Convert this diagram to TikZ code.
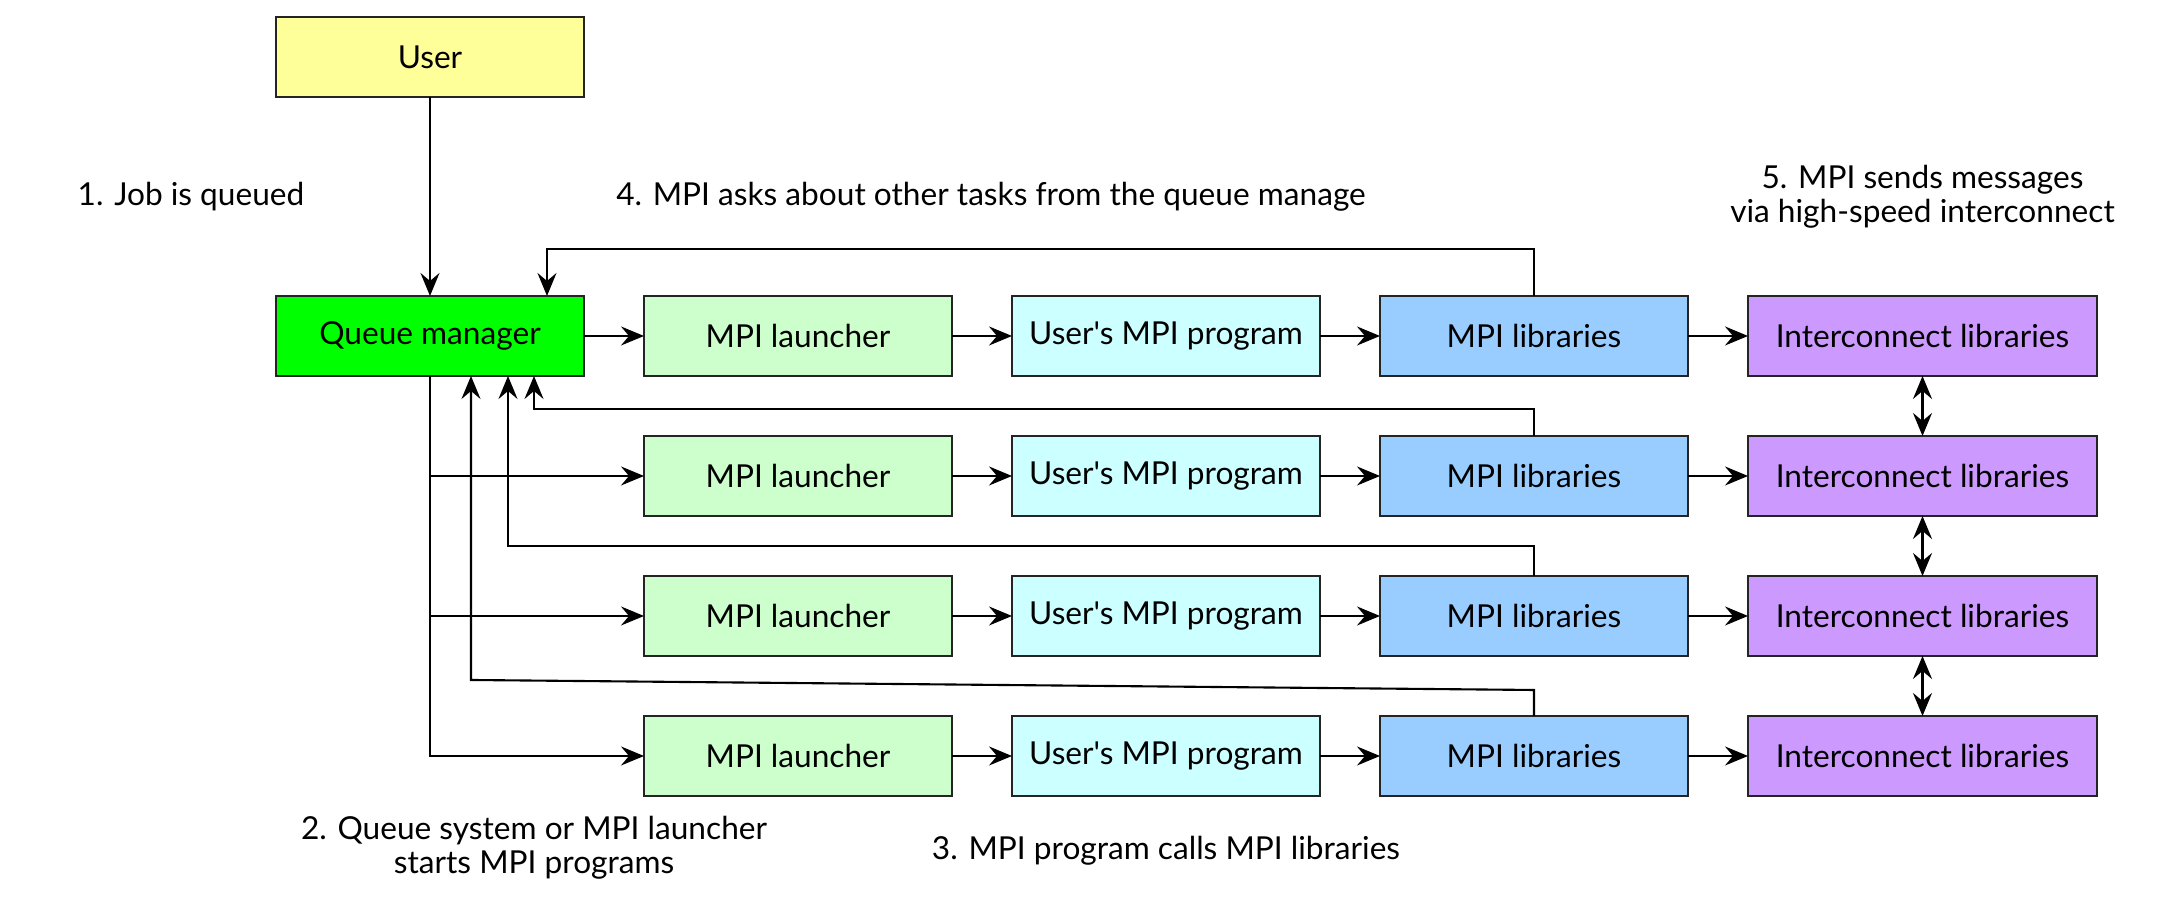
\documentclass[tikz,border=0pt]{standalone}
\usepackage{fontspec}
\setmainfont{Lato}[Ligatures=TeXOff]
\usepackage{xcolor}
\usepackage{tikz}
\usetikzlibrary{positioning,arrows.meta,calc}

\definecolor{userfill}{HTML}{FFFF99}
\definecolor{qmfill}{HTML}{00FF00}
\definecolor{lnchfill}{HTML}{CCFFCC}
\definecolor{progfill}{HTML}{CCFFFF}
\definecolor{libfill}{HTML}{99CCFF}
\definecolor{icfill}{HTML}{CC99FF}
\definecolor{boxline}{HTML}{242424}

\begin{document}
\begin{tikzpicture}[
    font=\fontsize{9pt}{9.7pt}\selectfont,
    box/.style={draw=boxline, line width=0.8pt, minimum width=3.08cm, minimum height=0.8cm, outer sep=0pt, inner sep=0pt},
    icbox/.style={box, fill=icfill, minimum width=3.49cm},
    arr/.style={-{Stealth[length=2.3mm, width=1.9mm, inset=0.8mm]}, line width=0.6pt},
    dbl/.style={{Stealth[length=2.3mm, width=1.9mm, inset=0.8mm]}-{Stealth[length=2.3mm, width=1.9mm, inset=0.8mm]}, line width=0.6pt},
    lbl/.style={align=center, inner sep=0pt}
  ]
\useasboundingbox (0,0) rectangle (21.58,9.04);

% Nodes
\node[box, fill=qmfill] (qm) at (4.30,5.68) {Queue manager};
\node[box, fill=userfill, above=1.99cm of qm] (user) {User};

\node[box, fill=lnchfill, right=0.6cm of qm] (lnch1) {MPI launcher};
\node[box, fill=progfill, right=0.6cm of lnch1] (prog1) {User's MPI program};
\node[box, fill=libfill, right=0.6cm of prog1] (lib1) {MPI libraries};
\node[icbox, right=0.6cm of lib1] (ic1) {Interconnect libraries};

\node[box, fill=lnchfill, below=0.6cm of lnch1] (lnch2) {MPI launcher};
\node[box, fill=progfill, right=0.6cm of lnch2] (prog2) {User's MPI program};
\node[box, fill=libfill, right=0.6cm of prog2] (lib2) {MPI libraries};
\node[icbox, right=0.6cm of lib2] (ic2) {Interconnect libraries};

\node[box, fill=lnchfill, below=0.6cm of lnch2] (lnch3) {MPI launcher};
\node[box, fill=progfill, right=0.6cm of lnch3] (prog3) {User's MPI program};
\node[box, fill=libfill, right=0.6cm of prog3] (lib3) {MPI libraries};
\node[icbox, right=0.6cm of lib3] (ic3) {Interconnect libraries};

\node[box, fill=lnchfill, below=0.6cm of lnch3] (lnch4) {MPI launcher};
\node[box, fill=progfill, right=0.6cm of lnch4] (prog4) {User's MPI program};
\node[box, fill=libfill, right=0.6cm of prog4] (lib4) {MPI libraries};
\node[icbox, right=0.6cm of lib4] (ic4) {Interconnect libraries};

% Step labels
\node[lbl] (step1) at (1.91,7.07) {1. Job is queued};
\node[lbl] (step4) at (9.91,7.07) {4. MPI asks about other tasks from the queue manage};
\node[lbl] (step5) at (ic1 |- 0,7.07) {5. MPI sends messages\\via high-speed interconnect};
\node[lbl] (step2) at (5.34,0.56) {2. Queue system or MPI launcher\\starts MPI programs};
\node[lbl] (step3) at (prog4 |- 0,0.53) {3. MPI program calls MPI libraries};

% Arrows along the rows
\draw[arr] (user) -- (qm);
\draw[arr] (qm) -- (lnch1);
\draw[arr] (qm.south) |- (lnch2.west);
\draw[arr] (qm.south) |- (lnch3.west);
\draw[arr] (qm.south) |- (lnch4.west);

\draw[arr] (lnch1) -- (prog1);
\draw[arr] (prog1) -- (lib1);
\draw[arr] (lib1) -- (ic1);
\draw[arr] (lnch2) -- (prog2);
\draw[arr] (prog2) -- (lib2);
\draw[arr] (lib2) -- (ic2);
\draw[arr] (lnch3) -- (prog3);
\draw[arr] (prog3) -- (lib3);
\draw[arr] (lib3) -- (ic3);
\draw[arr] (lnch4) -- (prog4);
\draw[arr] (prog4) -- (lib4);
\draw[arr] (lib4) -- (ic4);

% Interconnect links
\draw[dbl] (ic1) -- (ic2);
\draw[dbl] (ic2) -- (ic3);
\draw[dbl] (ic3) -- (ic4);

% Feedback to the queue manager
\coordinate (fb1) at (5.47,6.55);
\coordinate (fb2) at (5.34,4.95);
\coordinate (fb3) at (5.08,3.58);
\coordinate (fb4) at (4.71,2.24);
\draw[arr] (lib1.north) |- (fb1) -- (fb1 |- qm.north);
\draw[arr] (lib2.north) |- (fb2) -- (fb2 |- qm.south);
\draw[arr] (lib3.north) |- (fb3) -- (fb3 |- qm.south);
\draw[arr] (lib4.north) -- ($(lib4.north)+(0,0.26)$) -- (fb4) -- (fb4 |- qm.south);

\end{tikzpicture}
\end{document}
